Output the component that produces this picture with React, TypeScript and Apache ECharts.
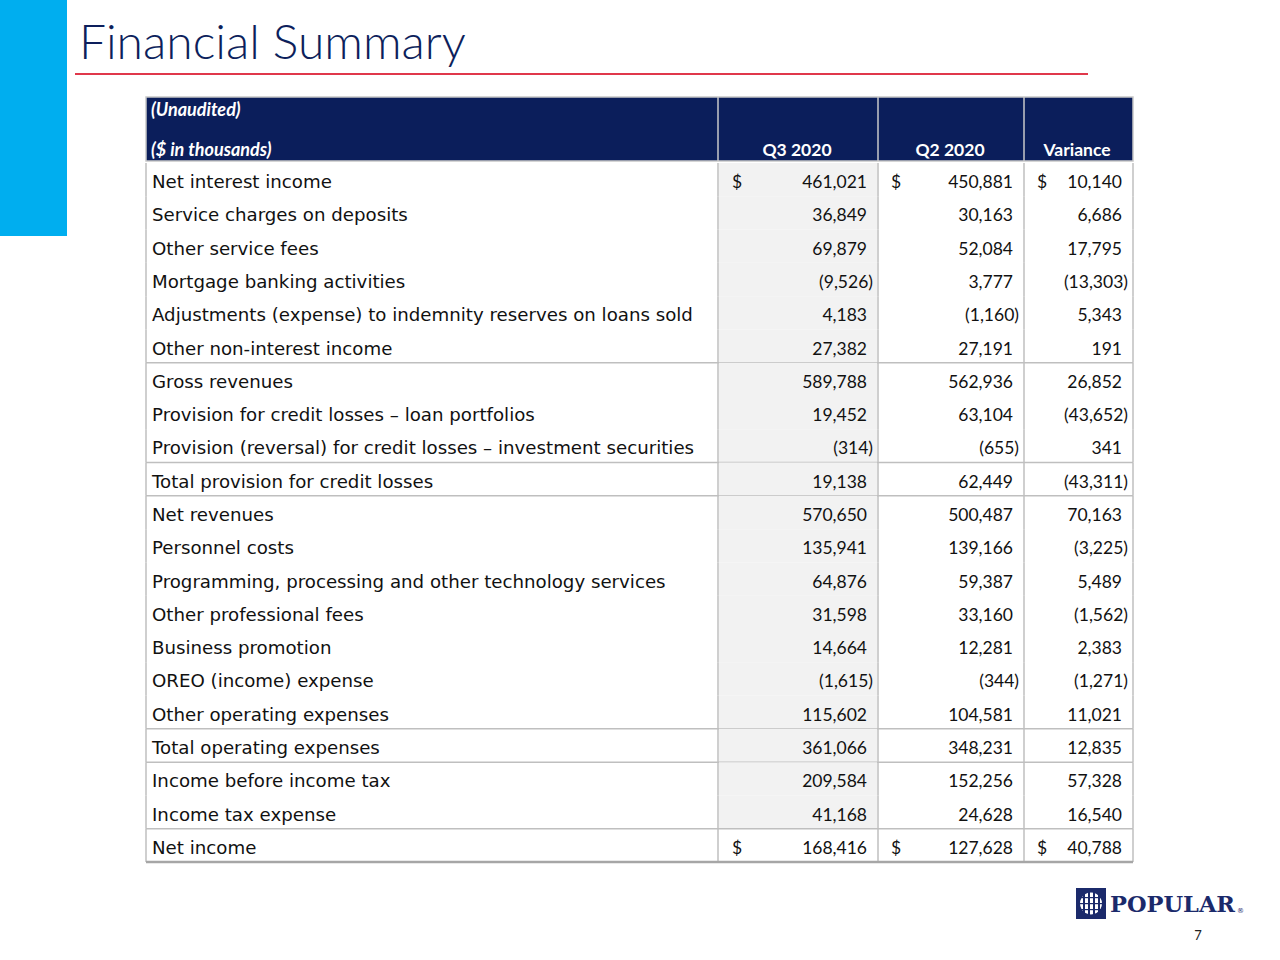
import React, { useEffect, useRef } from "react";
import * as echarts from "echarts";

const titleText = "Financial Summary";
const headerNotes = ["(Unaudited)", "($ in thousands)"];
const columnHeaders = ["Q3 2020", "Q2 2020", "Variance"];
const rowLabels = [
  "Net interest income",
  "Service charges on deposits",
  "Other service fees",
  "Mortgage banking activities",
  "Adjustments (expense) to indemnity reserves on loans sold",
  "Other non-interest income",
  "Gross revenues",
  "Provision for credit losses – loan portfolios",
  "Provision (reversal) for credit losses – investment securities",
  "Total provision for credit losses",
  "Net revenues",
  "Personnel costs",
  "Programming, processing and other technology services",
  "Other professional fees",
  "Business promotion",
  "OREO (income) expense",
  "Other operating expenses",
  "Total operating expenses",
  "Income before income tax",
  "Income tax expense",
  "Net income",
];
const q3Values = [461021, 36849, 69879, -9526, 4183, 27382, 589788, 19452, -314, 19138, 570650, 135941, 64876, 31598, 14664, -1615, 115602, 361066, 209584, 41168, 168416];
const q2Values = [450881, 30163, 52084, 3777, -1160, 27191, 562936, 63104, -655, 62449, 500487, 139166, 59387, 33160, 12281, -344, 104581, 348231, 152256, 24628, 127628];
const varianceValues = [10140, 6686, 17795, -13303, 5343, 191, 26852, -43652, 341, -43311, 70163, -3225, 5489, -1562, 2383, -1271, 11021, 12835, 57328, 16540, 40788];
const dollarRows = [0, 20];
const ruleAfterRows = [5, 8, 9, 16, 17, 19];
const pageNumber = "7";
const logoText = "POPULAR";

// layout
const NAVY = "#0B1E5B";
const GRID_LINE = "#BFBFBF";
const TABLE_L = 146;
const TABLE_R = 1133;
const COL_X = [718, 878, 1024];
const VAL_RIGHT = [873, 1019, 1128];
const DOLLAR_X = [732, 891, 1037];
const HEADER_TOP = 97;
const HEADER_BOTTOM = 161;
const TABLE_BOTTOM = 862;
const NUM_FONT = "Lato, 'Open Sans', sans-serif";
const LABEL_FONT = "'DejaVu Sans', 'Open Sans', sans-serif";

function fmt(v: number): string {
  const s = Math.abs(v).toLocaleString("en-US");
  return v < 0 ? `(${s})` : s;
}

export default function App() {
  const ref = useRef<HTMLDivElement>(null);
  useEffect(() => {
    if (!ref.current) return;
    const chart = echarts.init(ref.current, null, { renderer: "svg" });
    const cols = [q3Values, q2Values, varianceValues];

    const renderItem = (params: any, api: any) => {
      const idx = api.value(1) as number;
      const c = api.coord([0, idx]);
      const h = api.size([0, 1])[1];
      const yc = c[1];
      const top = yc - h / 2;
      const bot = yc + h / 2;
      const ty = yc + 2;
      const children: any[] = [];
      if (idx !== rowLabels.length - 1) {
        children.push({
          type: "rect",
          shape: { x: COL_X[0] + 1, y: top, width: COL_X[1] - COL_X[0] - 2, height: h },
          style: { fill: "#F2F2F2" },
          silent: true,
        });
      }
      children.push({
        type: "text",
        style: {
          x: 152, y: ty, text: rowLabels[idx], fill: "#111",
          font: `18.2px ${LABEL_FONT}`, textAlign: "left", textVerticalAlign: "middle",
        },
      });
      cols.forEach((arr, ci) => {
        const v = arr[idx];
        children.push({
          type: "text",
          style: {
            x: v < 0 ? VAL_RIGHT[ci] : VAL_RIGHT[ci] - 6, y: ty, text: fmt(v), fill: "#111",
            font: `17.5px ${NUM_FONT}`, textAlign: "right", textVerticalAlign: "middle",
          },
        });
        if (dollarRows.includes(idx)) {
          children.push({
            type: "text",
            style: {
              x: DOLLAR_X[ci], y: ty, text: "$", fill: "#111",
              font: `17.5px ${NUM_FONT}`, textAlign: "left", textVerticalAlign: "middle",
            },
          });
        }
      });
      [TABLE_L, ...COL_X, TABLE_R].forEach((x) => {
        children.push({
          type: "line",
          shape: { x1: x, y1: top, x2: x, y2: bot },
          style: { stroke: GRID_LINE, lineWidth: 1.5 },
        });
      });
      if (ruleAfterRows.includes(idx)) {
        children.push({
          type: "line",
          shape: { x1: TABLE_L, y1: bot, x2: TABLE_R, y2: bot },
          style: { stroke: GRID_LINE, lineWidth: 1.5 },
        });
      }
      return { type: "group", children };
    };

    const graphic: any[] = [
      { type: "rect", shape: { x: 0, y: 0, width: 67, height: 236 }, style: { fill: "#00AEEF" } },
      {
        type: "text",
        style: {
          x: 79, y: 40, text: titleText, fill: "#0D1F5C",
          font: `300 48px Lato, 'Open Sans', sans-serif`, textAlign: "left", textVerticalAlign: "middle",
        },
      },
      { type: "line", shape: { x1: 75, y1: 74, x2: 1088, y2: 74 }, style: { stroke: "#E0384B", lineWidth: 2 } },
      {
        type: "rect",
        shape: { x: TABLE_L, y: HEADER_TOP, width: TABLE_R - TABLE_L, height: HEADER_BOTTOM - HEADER_TOP },
        style: { fill: NAVY, stroke: "#C8C8C8", lineWidth: 1.5 },
      },
      ...COL_X.map((x) => ({
        type: "line",
        shape: { x1: x, y1: HEADER_TOP, x2: x, y2: HEADER_BOTTOM },
        style: { stroke: "#C8C8C8", lineWidth: 1.5 },
      })),
      ...headerNotes.map((t, i) => ({
        type: "text",
        style: {
          x: 151, y: i === 0 ? 109 : 149, text: t, fill: "#FFFFFF",
          font: `italic bold 18px ${NUM_FONT}`, textAlign: "left", textVerticalAlign: "middle",
        },
      })),
      ...columnHeaders.map((t, i) => ({
        type: "text",
        style: {
          x: [797, 950, 1077][i], y: 149, text: t, fill: "#FFFFFF",
          font: `bold 17.5px ${NUM_FONT}`, textAlign: "center", textVerticalAlign: "middle",
        },
      })),
      {
        type: "line",
        shape: { x1: TABLE_L, y1: TABLE_BOTTOM, x2: TABLE_R, y2: TABLE_BOTTOM },
        style: { stroke: "#A6A6A6", lineWidth: 2.5 },
        z: 100,
      },
      // logo
      { type: "rect", shape: { x: 1076, y: 888, width: 30, height: 31 }, style: { fill: "#1B2A6B" } },
      { type: "circle", shape: { cx: 1091, cy: 903.5, r: 11 }, style: { fill: "#FFFFFF" } },
      ...[1083, 1088, 1093, 1098].map((x) => ({
        type: "rect", shape: { x, y: 892, width: 2, height: 24 }, style: { fill: "#1B2A6B" },
      })),
      ...[897, 903, 909].map((y) => ({
        type: "rect", shape: { x: 1079, y, width: 24, height: 1.2 }, style: { fill: "#1B2A6B" },
      })),
      {
        type: "text",
        style: {
          x: 1110, y: 904, text: logoText, fill: "#1B2A6B",
          font: `900 22.5px 'DejaVu Serif', serif`, textAlign: "left", textVerticalAlign: "middle",
        },
      },
      {
        type: "text",
        style: {
          x: 1237, y: 911, text: "®", fill: "#1B2A6B",
          font: `7px 'DejaVu Sans', sans-serif`, textAlign: "left", textVerticalAlign: "middle",
        },
      },
      {
        type: "text",
        style: {
          x: 1198, y: 935, text: pageNumber, fill: "#222",
          font: `13px ${NUM_FONT}`, textAlign: "center", textVerticalAlign: "middle",
        },
      },
    ];

    chart.setOption({
      animation: false,
      backgroundColor: "#FFFFFF",
      grid: { left: 0, right: 0, top: HEADER_BOTTOM + 2, bottom: 960 - TABLE_BOTTOM },
      xAxis: { type: "value", min: 0, max: 1280, show: false },
      yAxis: { type: "category", data: rowLabels, inverse: true, show: false },
      series: [
        {
          type: "custom",
          renderItem,
          data: rowLabels.map((_, i) => [0, i]),
          encode: { x: 0, y: 1 },
          silent: true,
        },
      ],
      graphic,
    });
    return () => chart.dispose();
  }, []);
  return (
    <div
      ref={ref}
      style={{ position: "fixed", left: 0, top: 0, width: 1280, height: 960, background: "#fff" }}
    />
  );
}
